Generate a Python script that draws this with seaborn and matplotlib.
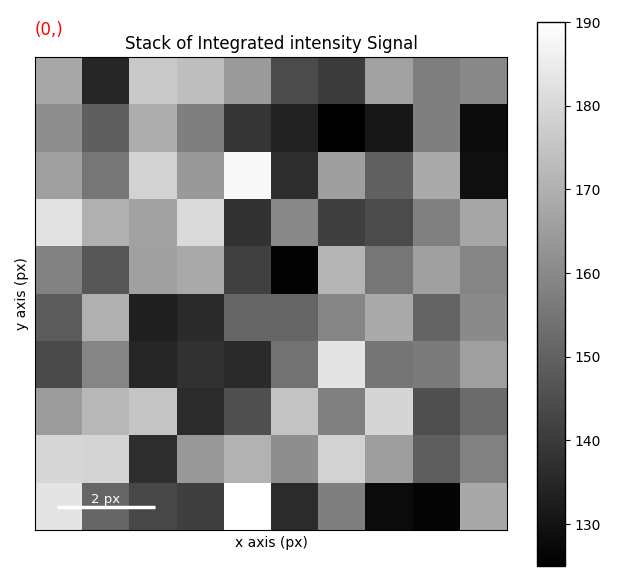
import numpy as np
import pandas as pd
import seaborn as sns
import matplotlib.pyplot as plt

# integrated intensity per navigation pixel (rows = y, cols = x)
row0 = [167.8, 134.9, 176.2, 173.4, 164.3, 144.1, 140.0, 166.0, 157.1, 159.7]
row1 = [161.2, 149.2, 169.1, 157.4, 138.5, 133.7, 125.0, 130.9, 157.4, 128.1]
row2 = [165.8, 155.1, 178.5, 164.0, 188.0, 136.7, 165.3, 149.5, 168.3, 129.1]
row3 = [182.4, 169.9, 166.3, 180.6, 137.7, 159.7, 141.1, 144.1, 157.6, 167.3]
row4 = [158.1, 147.2, 165.8, 168.1, 141.3, 126.0, 170.9, 155.1, 165.8, 158.9]
row5 = [148.5, 169.9, 132.9, 135.7, 151.0, 150.7, 159.2, 168.3, 150.5, 160.2]
row6 = [143.9, 158.9, 134.7, 137.5, 135.7, 154.1, 183.1, 154.8, 156.4, 165.5]
row7 = [164.8, 171.9, 175.2, 136.0, 145.4, 175.0, 157.6, 179.3, 145.1, 152.3]
row8 = [179.5, 179.0, 136.7, 163.7, 170.4, 161.2, 178.5, 165.3, 149.0, 157.9]
row9 = [182.9, 150.7, 143.1, 141.1, 190.0, 136.0, 157.4, 127.8, 126.5, 167.8]

data = pd.DataFrame([row0, row1, row2, row3, row4, row5, row6, row7, row8, row9])
cbar_ticks = [130, 140, 150, 160, 170, 180, 190]

fig = plt.figure(figsize=(6.4, 5.81), dpi=100)
ax = fig.add_axes([35/640, 1 - 530/581, 472/640, 473/581])
cax = fig.add_axes([537/640, 1 - 566/581, 28/640, 544/581])

sns.heatmap(data, ax=ax, cbar_ax=cax, cmap='gray', vmin=125.0, vmax=190.0,
            xticklabels=False, yticklabels=False, square=False,
            cbar_kws={'ticks': cbar_ticks})

for side in ['top', 'bottom', 'left', 'right']:
    ax.spines[side].set_visible(True)
    ax.spines[side].set_color('black')
ax.set_xlabel('x axis (px)', fontsize=10)
ax.set_ylabel('y axis (px)', fontsize=10)
ax.set_title('Stack of Integrated intensity Signal', fontsize=12)

# scale bar
ax.plot([0.46, 2.54], [9.52, 9.52], color='white', lw=2.5, solid_capstyle='butt')
ax.text(1.5, 9.42, '2 px', color='white', ha='center', va='baseline', fontsize=9.5)

cax.tick_params(labelsize=10)
cbar = ax.collections[0].colorbar
cbar.outline.set_visible(True)
cbar.outline.set_edgecolor('black')
cbar.outline.set_linewidth(1.0)

fig.text(35/640, 1 - 30/581, '(0,)', color='red', fontsize=12, va='center', ha='left')

plt.savefig('out.png', dpi=100)
